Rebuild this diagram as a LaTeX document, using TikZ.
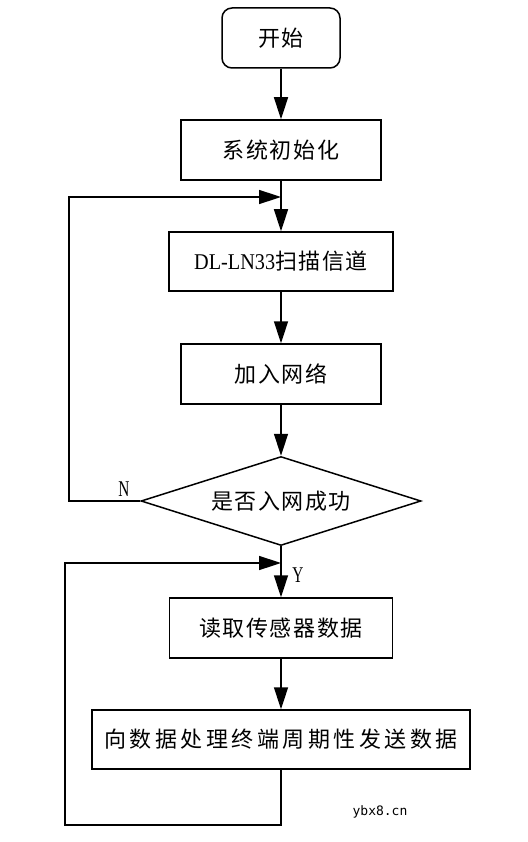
\documentclass[tikz,border=0pt]{standalone}
\usepackage{fontspec}
\setmainfont{Liberation Serif}
\newfontfamily\cjk[LetterSpace=7]{Noto Sans CJK SC}
\newfontfamily\cjkwide[LetterSpace=16]{Noto Sans CJK SC}
\newfontfamily\wmfont{DejaVu Sans Mono}
\usetikzlibrary{shapes.geometric,arrows.meta}
\begin{document}
\begin{tikzpicture}[x=1pt,y=-1pt,
  line width=1.5pt,
  >={Triangle[length=22pt,width=14pt]},
  proc/.style={draw,rectangle,inner sep=0pt,font=\fontsize{22}{26}\selectfont},
  term/.style={proc,rounded corners=10pt},
  decision/.style={draw,diamond,inner sep=0pt,shape aspect=3.15,minimum width=280pt,minimum height=89pt,font=\fontsize{22}{26}\selectfont},
  lab/.style={font=\fontsize{22.5}{26}\selectfont,inner sep=0pt},
  conn/.style={->,line width=1.5pt}]
\useasboundingbox (0,0) rectangle (527,842);
\node[term,minimum width=118pt,minimum height=60pt] (start) at (281,38) {\cjk 开始};
\node[proc,minimum width=200pt,minimum height=60pt] (init) at (281,150) {\cjk 系统初始化};
\node[proc,minimum width=224pt,minimum height=59pt] (scan) at (281,261.5) {{\fontsize{22.5}{26}\selectfont\scalebox{0.9}[1]{DL-LN33}}{\cjk 扫描信道}};
\node[proc,minimum width=200pt,minimum height=60pt] (join) at (281,374) {\cjk 加入网络};
\node[decision] (dec) at (281,501) {\cjk 是否入网成功};
\node[proc,minimum width=223pt,minimum height=60pt] (read) at (281,628) {\cjk 读取传感器数据};
\node[proc,minimum width=378pt,minimum height=59pt] (send) at (281,739.5) {\cjkwide 向数据处理终端周期性发送数据};
\coordinate (j1) at (281,197);
\coordinate (j2) at (281,563);
\coordinate (l1) at (69,501);
\coordinate (l2) at (69,197);
\coordinate (b1) at (281,825);
\coordinate (b2) at (65,825);
\coordinate (b3) at (65,563);
\draw[conn] (start) -- (init);
\draw[conn] (init) -- (scan);
\draw[conn] (scan) -- (join);
\draw[conn] (join) -- (dec);
\draw[conn] (dec) -- (read);
\draw[conn] (read) -- (send);
\draw[conn] (dec.west) -- (l1) -- (l2) -- (j1);
\draw[conn] (send.south) -- (b1) -- (b2) -- (b3) -- (j2);
\node[lab] (nlab) at (124,489) {\scalebox{0.68}[1]{N}};
\node[lab] (ylab) at (298,575) {\scalebox{0.68}[1]{Y}};
\node[inner sep=0pt,font=\wmfont\fontsize{13}{15}\selectfont] (wm) at (380,812) {ybx8.cn};
\end{tikzpicture}
\end{document}
